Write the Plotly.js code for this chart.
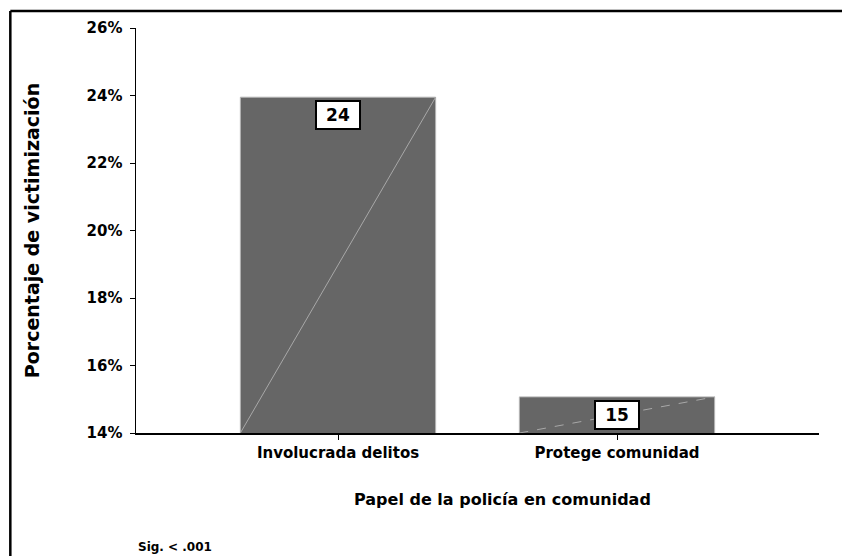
<!DOCTYPE html>
<html>
<head>
<meta charset="utf-8">
<script src="https://cdn.plot.ly/plotly-3.0.1.min.js"></script>
<style>html,body{margin:0;padding:0;background:#fff;overflow:hidden;}#chart{width:842px;height:556px;}</style>
</head>
<body>
<div id="chart"></div>
<script>
var categories = ["Involucrada delitos", "Protege comunidad"];
var values = [23.95, 15.07];
var valueLabels = ["24", "15"];
var yTickVals = [14, 16, 18, 20, 22, 24, 26];
var yTickText = ["14%", "16%", "18%", "20%", "22%", "24%", "26%"];
var yBase = 14;
var barWidth = 0.7;

var heavy = "DejaVu Sans, Verdana, sans-serif";

var trace = {
  type: "bar",
  x: categories,
  y: values,
  width: barWidth,
  marker: {color: "#666666", line: {color: "#b5b5b5", width: 1}},
  hoverinfo: "none"
};

var shapes = [
  {type: "line", xref: "paper", yref: "paper", x0: -0.184, x1: 1.034, y0: 1.042, y1: 1.042,
   line: {color: "#000", width: 2.5}},
  {type: "line", xref: "paper", yref: "paper", x0: -0.184, x1: -0.184, y0: 1.042, y1: -0.31,
   line: {color: "#000", width: 2.5}}
];
values.forEach(function (v, i) {
  shapes.push({
    type: "line", xref: "x", yref: "y",
    x0: i - barWidth / 2, y0: yBase, x1: i + barWidth / 2, y1: v,
    line: {color: "#a8a8a8", width: 1, dash: i === 0 ? "solid" : "dash"}
  });
});

var annotations = values.map(function (v, i) {
  return {
    x: categories[i], y: v, xref: "x", yref: "y",
    text: "<b>" + valueLabels[i] + "</b>",
    showarrow: false, yanchor: "top", yshift: -3,
    font: {family: heavy, size: 17, color: "#000"},
    bgcolor: "#fff", bordercolor: "#000", borderwidth: 2, borderpad: 2,
    width: 38, height: 22
  };
});
annotations.push({
  xref: "paper", yref: "paper", x: 0.0, y: -0.282, xanchor: "left", yanchor: "middle",
  text: "<b>Sig. < .001</b>", showarrow: false,
  font: {family: heavy, size: 12, color: "#000"}
});
annotations.push({
  xref: "paper", yref: "paper", x: 0.537, y: -0.165, xanchor: "center", yanchor: "middle",
  text: "<b>Papel de la policía en comunidad</b>", showarrow: false,
  font: {family: heavy, size: 16, color: "#000"}
});

var layout = {
  width: 842, height: 556,
  margin: {l: 136, r: 23, t: 28, b: 123},
  paper_bgcolor: "#fff", plot_bgcolor: "#fff",
  showlegend: false,
  bargap: 0.3,
  xaxis: {
    type: "category",
    range: [-0.724, 1.724],
    showline: true, linecolor: "#000", linewidth: 2,
    ticks: "outside", ticklen: 5, tickcolor: "#000", tickwidth: 1,
    showgrid: false, zeroline: false,
    tickfont: {family: heavy, size: 15, color: "#000", weight: "bold"}
  },
  yaxis: {
    range: [14, 26],
    tickvals: yTickVals, ticktext: yTickText,
    showline: true, linecolor: "#000", linewidth: 1.5,
    ticks: "outside", ticklen: 5, tickcolor: "#000", tickwidth: 1,
    ticklabelstandoff: 4,
    showgrid: false, zeroline: false,
    tickfont: {family: heavy, size: 15, color: "#000", weight: "bold"},
    title: {text: "<b>Porcentaje de victimización</b>", standoff: 42,
            font: {family: heavy, size: 19, color: "#000"}}
  },
  shapes: shapes,
  annotations: annotations
};

Plotly.newPlot("chart", [trace], layout, {staticPlot: true, displayModeBar: false});
</script>
</body>
</html>
